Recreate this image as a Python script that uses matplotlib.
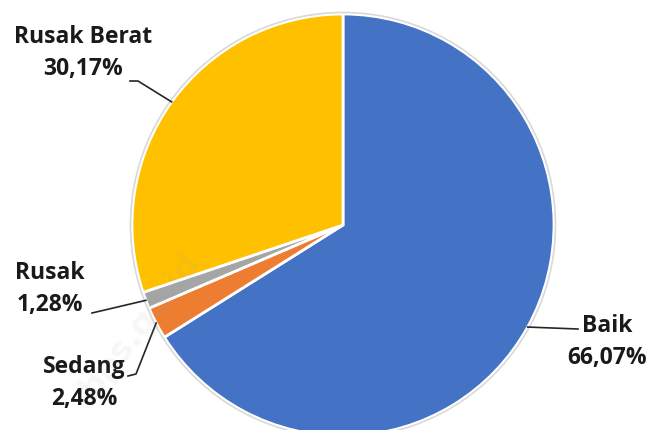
import matplotlib.pyplot as plt
import numpy as np

# kondisi jalan (persen)
kategori = ['Baik', 'Sedang', 'Rusak', 'Rusak Berat']
persen = [66.07, 2.48, 1.28, 30.17]
warna = ['#4472C4', '#ED7D31', '#A5A5A5', '#FFC000']

# label positions in pixel coords (y measured from top)
label_pos = {'Baik': (607, 342), 'Sedang': (84, 383), 'Rusak': (50, 289), 'Rusak Berat': (83, 53)}
# leader line elbows
elbow = {'Baik': [(578, 329)], 'Sedang': [(128, 376), (136, 374)], 'Rusak': [(92, 313)],
         'Rusak Berat': [(130, 81), (138, 81)]}

W, H = 654, 430
cx, cy, r = 343, 225, 211

fig = plt.figure(figsize=(6.54, 4.30), dpi=100)
ax = fig.add_axes([0, 0, 1, 1])

ax.pie(persen, colors=warna, startangle=90, counterclock=False,
       center=(cx, H - cy), radius=r, frame=True,
       wedgeprops=dict(edgecolor='white', linewidth=2))
ax.add_patch(plt.Circle((cx, H - cy), r + 1.5, fill=False, ec='#d9d9d9', lw=1.2))
ax.set_xlim(0, W)
ax.set_ylim(0, H)
ax.set_aspect('equal')
ax.axis('off')

# leader lines and labels
awal = 0
for k, p in zip(kategori, persen):
    mid = awal + p / 2
    awal += p
    ang = np.deg2rad(90 - mid * 3.6)
    ex, ey = cx + r * np.cos(ang), cy - r * np.sin(ang)
    pts = [(ex, ey)] + elbow[k][::-1] if k != 'Baik' else [(ex, ey)] + elbow[k]
    xs = [q[0] for q in pts]
    ys = [H - q[1] for q in pts]
    ax.plot(xs, ys, color='#262626', lw=1.2)
    lx, ly = label_pos[k]
    ax.text(lx, H - ly, k + '\n' + ('%.2f' % p).replace('.', ',') + '%',
            ha='center', va='center', fontsize=16.5, fontweight='bold',
            family=['Open Sans', 'DejaVu Sans'], color='#1a1a1a', linespacing=1.45)

# watermark
ax.text(140, H - 325, 'bps.go.id', rotation=52, fontsize=24, fontweight='bold',
        color='#999999', alpha=0.08, ha='center', va='center')

fig.savefig('out.png', dpi=100)
